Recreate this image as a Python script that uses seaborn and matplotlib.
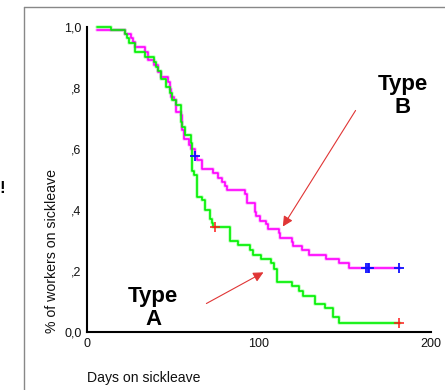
import matplotlib
matplotlib.use('Agg')
import matplotlib.pyplot as plt
from matplotlib.lines import Line2D
import seaborn as sns
import pandas as pd

# Kaplan-Meier style step curves
days_a = [6, 14, 22, 23, 24.6, 28, 34, 39, 40, 41.4, 42.9, 43.3, 46.2, 48.5, 49.5,
          51.5, 54.5, 55.5, 57, 60.3, 61, 61.3, 62.3, 64.2, 67.1, 68.5, 71.4, 72.5,
          73.3, 83, 88, 95, 96.5, 101.4, 107.2, 108.5, 110.4, 119.3, 123.2, 125.5,
          132.7, 138.1, 142.9, 146.8, 182]
surv_a = [1.0, 0.989, 0.976, 0.963, 0.946, 0.917, 0.903, 0.886, 0.87, 0.857, 0.843,
          0.83, 0.802, 0.785, 0.76, 0.743, 0.69, 0.673, 0.646, 0.619, 0.586, 0.529,
          0.515, 0.444, 0.433, 0.40, 0.37, 0.356, 0.345, 0.30, 0.285, 0.269, 0.252,
          0.238, 0.225, 0.205, 0.165, 0.151, 0.136, 0.118, 0.091, 0.078, 0.05, 0.028,
          0.028]

days_b = [6, 22, 25.5, 26.5, 28, 34, 35.6, 38.9, 41.4, 43.3, 47.2, 48.2, 49.1, 50.7,
          52, 54.4, 55.5, 56.5, 59.4, 60.7, 62.7, 64.2, 66.9, 73.3, 76.2, 78.7, 80.1,
          81.6, 91.7, 93, 97.5, 98.1, 100.4, 104.3, 105.2, 111.6, 112, 119.3, 119.7,
          125.1, 129, 139.1, 146.8, 152.6, 182]
surv_b = [0.99, 0.976, 0.963, 0.95, 0.933, 0.919, 0.892, 0.875, 0.851, 0.837, 0.82,
          0.796, 0.772, 0.76, 0.722, 0.71, 0.662, 0.632, 0.613, 0.6, 0.577, 0.564,
          0.534, 0.52, 0.506, 0.492, 0.48, 0.466, 0.451, 0.422, 0.395, 0.38, 0.365,
          0.353, 0.339, 0.323, 0.309, 0.296, 0.282, 0.269, 0.252, 0.238, 0.225, 0.211,
          0.211]

# censored cases
cens_a_days = [74.3, 181.6]
cens_a_surv = [0.345, 0.028]
cens_b_days = [62.7, 162.2, 163.2, 164.2, 181.6]
cens_b_surv = [0.577, 0.211, 0.211, 0.211, 0.211]

yticks = [0, 0.2, 0.4, 0.6, 0.8, 1.0]
ytick_labels = ['0,0', ',2', ',4', ',6', ',8', '1,0']
xticks = [0, 100, 200]

sns.set_style('white')
plt.rcParams['font.family'] = ['Liberation Sans', 'DejaVu Sans']
plt.rcParams['text.color'] = 'black'

W, H = 445, 390
fig = plt.figure(figsize=(W / 100, H / 100), dpi=100)
ax = fig.add_axes([87 / W, 58 / H, 344 / W, 305 / H])

df_a = pd.DataFrame({'day': days_a, 'surv': surv_a})
df_b = pd.DataFrame({'day': days_b, 'surv': surv_b})

# pale echo under each curve, as in the scanned original
sns.lineplot(data=df_b, x='day', y='surv', color='#ff00ff', lw=2.6, alpha=0.25,
             drawstyle='steps-post', estimator=None, ax=ax, clip_on=False)
sns.lineplot(data=df_a, x='day', y='surv', color='#00ff00', lw=2.6, alpha=0.25,
             drawstyle='steps-post', estimator=None, ax=ax, clip_on=False)
sns.lineplot(data=df_b, x='day', y='surv', color='#ff00ff', lw=1.2,
             drawstyle='steps-post', estimator=None, ax=ax, clip_on=False)
sns.lineplot(data=df_a, x='day', y='surv', color='#00f000', lw=1.2,
             drawstyle='steps-post', estimator=None, ax=ax, clip_on=False)

ax.plot(cens_b_days, cens_b_surv, ls='none', marker='+', ms=7, mew=1.3,
        color='#1010ff', clip_on=False)
ax.plot(cens_a_days, cens_a_surv, ls='none', marker='+', ms=7, mew=1.1,
        color='#ff1a1a', clip_on=False)

ax.set_xlim(0, 200)
ax.set_ylim(0, 1.0)
ax.set_xticks(xticks)
ax.set_xticklabels([str(t) for t in xticks])
ax.set_yticks(yticks)
ax.set_yticklabels(ytick_labels)
ax.tick_params(axis='both', length=2, width=1.5, color='black', labelsize=9,
               labelcolor='#111111', pad=2, direction='out')
ax.set_xlabel('')
ax.set_ylabel('')
sns.despine(ax=ax)
for sp in ['left', 'bottom']:
    ax.spines[sp].set_color('black')
    ax.spines[sp].set_linewidth(1.5)

# arrows pointing to the curves
arrow_kw = dict(arrowstyle='-|>', color='#e03535', lw=0.8, mutation_scale=15)
ax.annotate('', xy=(113, 0.338), xytext=(157, 0.734), arrowprops=arrow_kw,
            annotation_clip=False)
ax.annotate('', xy=(104, 0.2), xytext=(68, 0.089), arrowprops=arrow_kw,
            annotation_clip=False)

ax.text(183.5, 0.775, 'Type\nB', ha='center', va='center', fontsize=16,
        fontweight='bold', linespacing=1.12, color='black')
ax.text(38.5, 0.078, 'Type\nA', ha='center', va='center', fontsize=16,
        fontweight='bold', linespacing=1.12, color='black')

fig.text(52 / W, 1 - 333 / H, '% of workers on sickleave', rotation=90,
         ha='center', va='bottom', fontsize=10.2, color='#111111')
fig.text(87 / W, 1 - 378 / H, 'Days on sickleave', ha='left', va='center',
         fontsize=10.1, color='#111111')
fig.text(-1 / W, 1 - 188 / H, '!', ha='left', va='center', fontsize=12,
         fontweight='bold', color='black')

# grey frame of the original slide
fig.add_artist(Line2D([24 / W, 24 / W], [0, 1 - 7 / H], color='#888888', lw=1))
fig.add_artist(Line2D([24 / W, 1], [1 - 7 / H, 1 - 7 / H], color='#888888', lw=1))

fig.savefig('out.png', dpi=100)
